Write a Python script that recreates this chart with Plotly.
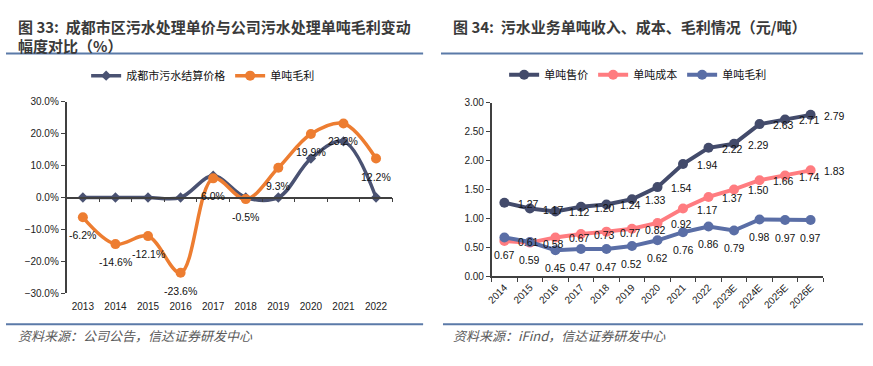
import plotly.graph_objects as go

# ---------------- data ----------------
years_l = ["2013", "2014", "2015", "2016", "2017", "2018", "2019", "2020", "2021", "2022"]
price_chg = [0.0, 0.0, 0.0, 0.0, 6.8, 0.0, 0.0, 12.2, 17.6, 0.0]          # 成都市污水结算价格
margin_chg = [-6.2, -14.6, -12.1, -23.6, 6.0, -0.5, 9.3, 19.9, 23.2, 12.2]  # 单吨毛利

years_r = ["2014", "2015", "2016", "2017", "2018", "2019", "2020", "2021", "2022",
           "2023E", "2024E", "2025E", "2026E"]
unit_price = [1.27, 1.17, 1.12, 1.20, 1.24, 1.33, 1.54, 1.94, 2.22, 2.29, 2.63, 2.71, 2.79]
unit_cost = [0.61, 0.58, 0.67, 0.73, 0.77, 0.82, 0.92, 1.17, 1.37, 1.50, 1.66, 1.74, 1.83]
unit_margin = [0.67, 0.59, 0.45, 0.47, 0.47, 0.52, 0.62, 0.76, 0.86, 0.79, 0.98, 0.97, 0.97]

left_title_1 = "<b>图 33:  成都市区污水处理单价与公司污水处理单吨毛利变动</b>"
left_title_2 = "<b>幅度对比（%）</b>"
right_title = "<b>图 34:  污水业务单吨收入、成本、毛利情况（元/吨）</b>"
left_source = "<i>资料来源：公司公告，信达证券研发中心</i>"
right_source = "<i>资料来源：iFind，信达证券研发中心</i>"

# ---------------- layout helpers ----------------
W, H = 873, 366
def px(x):
    return x / W
def py(y):
    return 1 - y / H

NUM_FONT = "Liberation Sans, Arial, Noto Sans CJK SC"
CJK_FONT = "Noto Sans CJK SC, Liberation Sans"
AX_COL = "#404040"
RULE_COL = "#5b7aa8"

C_NAVY_L = "#4a5272"
C_ORANGE = "#ed7d31"
C_PRICE = "#434b6b"
C_COST = "#ff7c80"
C_MARGIN = "#5a6ea6"

fig = go.Figure()

# left chart
fig.add_trace(go.Scatter(x=years_l, y=price_chg, name="成都市污水结算价格", mode="lines+markers",
                         line=dict(color=C_NAVY_L, width=3.5, shape="spline", smoothing=1),
                         marker=dict(symbol="diamond", size=8, color=C_NAVY_L),
                         xaxis="x", yaxis="y", legend="legend"))
fig.add_trace(go.Scatter(x=years_l, y=margin_chg, name="单吨毛利", mode="lines+markers",
                         line=dict(color=C_ORANGE, width=3.5, shape="spline", smoothing=1),
                         marker=dict(symbol="circle", size=10, color=C_ORANGE),
                         xaxis="x", yaxis="y", legend="legend"))
# dummy trace so the zero-line category axis is drawn
fig.add_trace(go.Scatter(x=[], y=[], xaxis="x3", yaxis="y", showlegend=False, hoverinfo="skip"))

# right chart
for name, vals, col in [("单吨售价", unit_price, C_PRICE), ("单吨成本", unit_cost, C_COST),
                        ("单吨毛利", unit_margin, C_MARGIN)]:
    fig.add_trace(go.Scatter(x=years_r, y=vals, name=name, mode="lines+markers",
                             line=dict(color=col, width=4),
                             marker=dict(symbol="circle", size=10, color=col),
                             xaxis="x2", yaxis="y2", legend="legend2"))

annotations = []
lab_font = dict(family=NUM_FONT, size=10.5, color="#111111")
# category axes: annotations are placed by category index
for i, v in enumerate(margin_chg):
    annotations.append(dict(x=i, y=v, xref="x", yref="y", text=f"{v:.1f}%", showarrow=False,
                            font=lab_font, yshift=-18))
for i, v in enumerate(unit_price):
    annotations.append(dict(x=i, y=v, xref="x2", yref="y2", text=f"{v:.2f}", showarrow=False,
                            font=lab_font, xshift=24, yshift=-1))
for i, v in enumerate(unit_cost):
    annotations.append(dict(x=i, y=v, xref="x2", yref="y2", text=f"{v:.2f}", showarrow=False,
                            font=lab_font, xshift=24, yshift=-1))
for i, v in enumerate(unit_margin):
    annotations.append(dict(x=i, y=v, xref="x2", yref="y2", text=f"{v:.2f}", showarrow=False,
                            font=lab_font, yshift=-18))

title_font = dict(family=CJK_FONT, size=15, color="#3a3a3a")
annotations += [
    dict(x=px(10), y=py(21), xref="paper", yref="paper", xanchor="left", yanchor="middle",
         text=left_title_1, showarrow=False, font=title_font),
    dict(x=px(10), y=py(41), xref="paper", yref="paper", xanchor="left", yanchor="middle",
         text=left_title_2, showarrow=False, font=title_font),
    dict(x=px(448), y=py(21), xref="paper", yref="paper", xanchor="left", yanchor="middle",
         text=right_title, showarrow=False, font=title_font),
    dict(x=px(10), y=py(341), xref="paper", yref="paper", xanchor="left", yanchor="middle",
         text=left_source, showarrow=False, font=dict(family=CJK_FONT, size=13, color="#5a5a5a")),
    dict(x=px(448), y=py(341), xref="paper", yref="paper", xanchor="left", yanchor="middle",
         text=right_source, showarrow=False, font=dict(family=CJK_FONT, size=13, color="#5a5a5a")),
]

shapes = []
for x0, x1, y in [(0, 420, 49), (438, 863, 49), (0, 420, 329), (440, 863, 329)]:
    shapes.append(dict(type="line", xref="paper", yref="paper", x0=px(x0), x1=px(x1),
                       y0=py(y), y1=py(y), line=dict(color=RULE_COL, width=2)))

L_X = [px(61), px(389)]
L_Y = [py(297), py(99)]
R_X = [px(489), px(823)]
R_Y = [py(279.3), py(100)]
yl_range = [-30, 30]
zero_pos = L_Y[0] + (0 - yl_range[0]) / (yl_range[1] - yl_range[0]) * (L_Y[1] - L_Y[0])

tick_font = dict(family=NUM_FONT, size=10, color="#222222")
nL = len(years_l)

fig.update_layout(
    width=W, height=H, autosize=False,
    margin=dict(l=0, r=0, t=0, b=0),
    paper_bgcolor="white", plot_bgcolor="rgba(0,0,0,0)",
    showlegend=True,
    xaxis=dict(domain=L_X, anchor="y", type="category", categoryarray=years_l,
               range=[-0.5, nL - 0.5], showline=False, ticks="", showgrid=False,
               zeroline=False, tickfont=tick_font, ticklabelstandoff=6, fixedrange=True),
    xaxis3=dict(domain=L_X, overlaying="x", anchor="free", position=zero_pos,
                range=[-0.5, nL - 0.5], tickmode="array",
                tickvals=[i - 0.5 for i in range(nL + 1)], showticklabels=False,
                ticks="outside", ticklen=4, tickcolor=AX_COL, tickwidth=1,
                showline=True, linecolor=AX_COL, linewidth=1.5, showgrid=False, zeroline=False),
    yaxis=dict(domain=L_Y, anchor="x", range=yl_range, dtick=10, tickformat=".1f",
               ticksuffix="%", showline=True, linecolor=AX_COL, linewidth=1.5,
               ticks="outside", ticklen=4, tickcolor=AX_COL, showgrid=False, zeroline=False,
               tickfont=tick_font),
    xaxis2=dict(domain=R_X, anchor="y2", type="category", categoryarray=years_r,
                range=[-0.5, len(years_r) - 0.5], showline=True, linecolor=AX_COL, linewidth=1.5,
                ticks="outside", tickson="boundaries", ticklen=4, tickcolor=AX_COL,
                tickangle=-45, showgrid=False, zeroline=False, tickfont=tick_font),
    yaxis2=dict(domain=R_Y, anchor="x2", range=[0, 3], dtick=0.5, tickformat=".2f",
                showline=True, linecolor=AX_COL, linewidth=1.5, ticks="outside", ticklen=4,
                tickcolor=AX_COL, showgrid=False, zeroline=False, tickfont=tick_font),
    legend=dict(orientation="h", x=px(198), y=py(72), xanchor="center", yanchor="middle",
                font=dict(family=CJK_FONT, size=11, color="#111111"), bgcolor="rgba(0,0,0,0)",
                itemwidth=30),
    legend2=dict(orientation="h", x=px(636), y=py(71), xanchor="center", yanchor="middle",
                 font=dict(family=CJK_FONT, size=11, color="#111111"), bgcolor="rgba(0,0,0,0)",
                 itemwidth=30),
    annotations=annotations,
    shapes=shapes,
)

fig.write_html("out.html", config={"displayModeBar": False},
               post_script="document.body.style.margin='0';document.body.style.overflow='hidden';")
